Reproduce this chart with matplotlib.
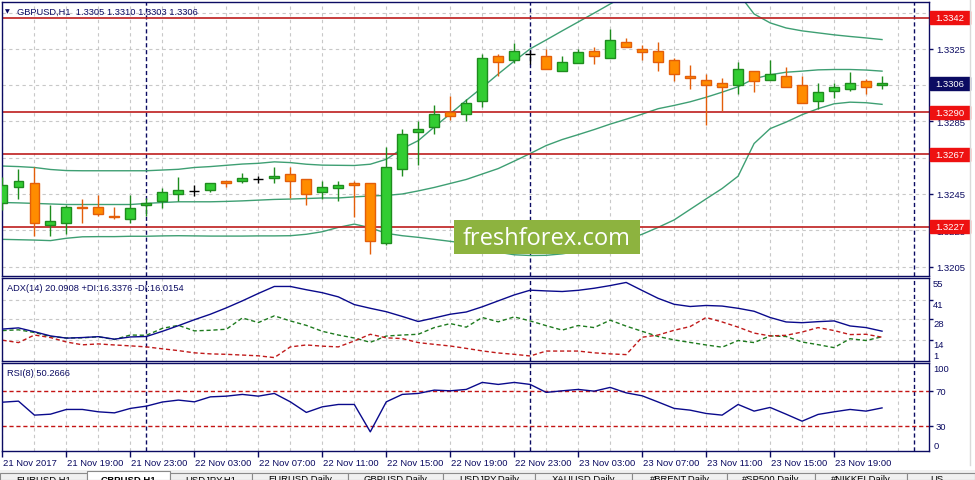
import numpy as np
import matplotlib.pyplot as plt
from matplotlib.patches import Rectangle
from matplotlib.lines import Line2D
from matplotlib import transforms

plt.rcParams['font.family'] = ['Liberation Sans', 'DejaVu Sans']

# GBPUSD H1, 21 Nov 15:00 .. 23 Nov 22:00
symbol = 'GBPUSD,H1'
first_hour = 15
x_labels = ['21 Nov 2017', '21 Nov 19:00', '21 Nov 23:00', '22 Nov 03:00', '22 Nov 07:00',
            '22 Nov 11:00', '22 Nov 15:00', '22 Nov 19:00', '22 Nov 23:00', '23 Nov 03:00',
            '23 Nov 07:00', '23 Nov 11:00', '23 Nov 15:00', '23 Nov 19:00']

opens = [1.32403, 1.32490, 1.32513, 1.32279, 1.32290, 1.32381, 1.32380, 1.32330, 1.32314, 1.32391,
         1.32413, 1.32451, 1.32464, 1.32473, 1.32523, 1.32523, 1.32535, 1.32539, 1.32561, 1.32534,
         1.32462, 1.32484, 1.32513, 1.32512, 1.32182, 1.32589, 1.32792, 1.32819, 1.32902, 1.32891,
         1.32962, 1.33210, 1.33188, 1.33221, 1.33210, 1.33127, 1.33171, 1.33237, 1.33199, 1.33286,
         1.33248, 1.33237, 1.33188, 1.33100, 1.33078, 1.33061, 1.33050, 1.33127, 1.33078, 1.33100,
         1.33050, 1.32962, 1.33017, 1.33028, 1.33072, 1.3305]
highs = [1.32541, 1.32590, 1.32600, 1.32389, 1.32389, 1.32425, 1.32442, 1.32376, 1.32442, 1.32429,
         1.32484, 1.32541, 1.32498, 1.32512, 1.32523, 1.32563, 1.32548, 1.32600, 1.32600, 1.32534,
         1.32523, 1.32523, 1.32523, 1.32512, 1.32710, 1.32810, 1.32854, 1.32942, 1.32991, 1.32971,
         1.33221, 1.33222, 1.33283, 1.33246, 1.33250, 1.33210, 1.33250, 1.33262, 1.33358, 1.33310,
         1.33272, 1.33286, 1.33199, 1.33162, 1.33111, 1.33089, 1.33180, 1.33127, 1.33189, 1.33149,
         1.33100, 1.33061, 1.33061, 1.33122, 1.33083, 1.3310]
lows = [1.32360, 1.32422, 1.32218, 1.32218, 1.32229, 1.32290, 1.32328, 1.32312, 1.32290, 1.32330,
        1.32372, 1.32411, 1.32438, 1.32460, 1.32486, 1.32512, 1.32512, 1.32512, 1.32429, 1.32389,
        1.32422, 1.32413, 1.32323, 1.32119, 1.32169, 1.32548, 1.32608, 1.32781, 1.32856, 1.32854,
        1.32927, 1.33100, 1.33171, 1.33166, 1.33138, 1.33127, 1.33171, 1.33169, 1.33199, 1.33259,
        1.33188, 1.33125, 1.33070, 1.33026, 1.32828, 1.32909, 1.32999, 1.33010, 1.33078, 1.33039,
        1.32951, 1.32920, 1.32979, 1.33017, 1.32999, 1.3303]
closes = [1.32502, 1.32523, 1.32290, 1.32303, 1.32376, 1.32372, 1.32339, 1.32323, 1.32374, 1.32402,
          1.32462, 1.32473, 1.32464, 1.32512, 1.32512, 1.32539, 1.32535, 1.32550, 1.32523, 1.32451,
          1.32490, 1.32498, 1.32502, 1.32193, 1.32600, 1.32783, 1.32810, 1.32891, 1.32880, 1.32951,
          1.33199, 1.33177, 1.33237, 1.33221, 1.33138, 1.33177, 1.33232, 1.33210, 1.33297, 1.33259,
          1.33232, 1.33177, 1.33111, 1.33089, 1.33050, 1.33039, 1.33138, 1.33072, 1.33111, 1.33039,
          1.32951, 1.33012, 1.33039, 1.33061, 1.33039, 1.3306]

bb_upper = [1.32604, 1.32601, 1.32596, 1.32585, 1.32579, 1.32578, 1.32578, 1.32578, 1.32578, 1.32578,
            1.32582, 1.32586, 1.32596, 1.32601, 1.32608, 1.32615, 1.32619, 1.32627, 1.32623, 1.32614,
            1.32609, 1.32608, 1.32607, 1.32614, 1.32641, 1.32700, 1.32744, 1.32819, 1.32892, 1.32966,
            1.33037, 1.33111, 1.33182, 1.33250, 1.33299, 1.33349, 1.33398, 1.33447, 1.33497, 1.33546,
            1.33579, 1.33601, 1.33618, 1.33623, 1.33618, 1.33601, 1.33557, 1.33442, 1.33393, 1.33365,
            1.33349, 1.33338, 1.33327, 1.33318, 1.33310, 1.33301]
bb_middle = [1.32403, 1.32401, 1.32398, 1.32395, 1.32392, 1.32392, 1.32392, 1.32392, 1.32392, 1.32398,
             1.32403, 1.32407, 1.32407, 1.32407, 1.32409, 1.32412, 1.32416, 1.32420, 1.32422, 1.32425,
             1.32428, 1.32428, 1.32434, 1.32439, 1.32442, 1.32450, 1.32467, 1.32486, 1.32508, 1.32530,
             1.32560, 1.32590, 1.32631, 1.32673, 1.32717, 1.32750, 1.32777, 1.32805, 1.32835, 1.32862,
             1.32890, 1.32920, 1.32938, 1.32958, 1.32983, 1.33011, 1.33041, 1.33085, 1.33107, 1.33121,
             1.33127, 1.33134, 1.33136, 1.33136, 1.33133, 1.33127]
bb_lower = [1.32200, 1.32198, 1.32196, 1.32193, 1.32206, 1.32214, 1.32215, 1.32215, 1.32217, 1.32217,
            1.32219, 1.32220, 1.32219, 1.32218, 1.32218, 1.32218, 1.32219, 1.32219, 1.32220, 1.32228,
            1.32242, 1.32266, 1.32284, 1.32264, 1.32233, 1.32220, 1.32211, 1.32200, 1.32189, 1.32178,
            1.32156, 1.32129, 1.32115, 1.32111, 1.32112, 1.32120, 1.32134, 1.32151, 1.32173, 1.32200,
            1.32228, 1.32266, 1.32307, 1.32365, 1.32423, 1.32480, 1.32548, 1.32728, 1.32810, 1.32846,
            1.32887, 1.32920, 1.32947, 1.32956, 1.32953, 1.32944]

levels = [1.3342, 1.3290, 1.3267, 1.3227]
price_ticks = [1.3205, 1.3225, 1.3245, 1.3265, 1.3285, 1.3305, 1.3325, 1.3345]

adx = [21.5, 22.3, 19.7, 16.9, 15.4, 15.8, 16.4, 14.7, 16.2, 16.5,
       20.0, 23.8, 27.8, 31.5, 35.8, 40.5, 45.5, 50.2, 50.2, 48.0,
       46.0, 43.2, 38.0, 35.5, 33.2, 30.0, 26.6, 29.0, 31.5, 33.0,
       36.5, 40.5, 44.5, 47.7, 47.2, 46.8, 47.6, 49.0, 50.8, 52.9,
       47.5, 42.2, 38.2, 36.7, 37.4, 37.0, 35.5, 33.5, 29.3, 26.3,
       25.8, 26.5, 27.0, 23.6, 22.5, 20.0908]
plus_di = [20.5, 21.0, 19.2, 16.5, 15.5, 15.6, 16.3, 14.5, 17.5, 17.3,
           22.0, 24.0, 20.3, 20.7, 21.4, 29.0, 25.9, 30.4, 27.0, 24.0,
           20.0, 17.5, 15.5, 12.6, 16.8, 17.5, 18.0, 22.5, 25.2, 22.8,
           29.3, 26.4, 29.7, 27.0, 23.8, 20.8, 23.9, 22.5, 27.5, 23.5,
           20.0, 16.5, 14.2, 12.5, 10.8, 9.3, 13.8, 12.4, 16.9, 16.5,
           12.8, 11.0, 9.0, 15.0, 13.8, 16.3376]
minus_di = [14.0, 12.4, 17.5, 15.8, 12.8, 10.9, 11.5, 10.8, 10.2, 9.5,
            8.2, 7.0, 5.5, 4.8, 4.5, 4.0, 3.5, 2.3, 9.5, 10.8,
            10.0, 9.5, 13.5, 18.0, 15.6, 15.1, 12.4, 11.2, 10.1, 8.5,
            6.8, 5.4, 4.5, 3.4, 6.7, 6.7, 6.7, 5.5, 4.8, 4.3,
            16.0, 17.5, 20.7, 23.2, 29.3, 26.3, 22.8, 18.8, 16.9, 17.3,
            19.5, 22.5, 20.5, 17.8, 18.0, 16.0154]
rsi = [56.8, 58.0, 42.0, 43.1, 48.5, 48.5, 45.8, 44.6, 49.7, 52.3,
       57.0, 59.2, 57.2, 62.9, 63.7, 65.7, 63.7, 66.8, 57.2, 45.1,
       51.5, 54.2, 54.2, 22.9, 57.2, 65.7, 66.8, 70.6, 69.8, 71.4,
       79.4, 77.1, 79.4, 77.1, 68.0, 69.8, 71.4, 69.4, 73.7, 67.5,
       64.1, 57.0, 49.7, 47.7, 43.9, 42.0, 54.2, 46.6, 50.8, 43.1,
       35.1, 42.8, 45.8, 48.5, 46.6, 50.2666]

tabs = ['EURUSD,H1', 'GBPUSD,H1', 'USDJPY,H1', 'EURUSD,Daily', 'GBPUSD,Daily', 'USDJPY,Daily',
        'XAUUSD,Daily', '#BRENT,Daily', '#SP500,Daily', '#NIKKEI,Daily', 'US...']

NAVY = '#0B0B62'
GRID = '#C8C8C8'
UP, UP_EDGE = '#32CD32', '#1E8C1E'
DN, DN_EDGE = '#FF8C00', '#E35E0A'
BB = '#3E9F73'
LEVEL = '#BE1E1E'
LEVEL_BOX = '#EE1111'

W, H = 975, 481
fig = plt.figure(figsize=(W / 100, H / 100), dpi=100)


def rect(l, t, r, b):
    return [l / W, 1 - b / H, (r - l) / W, (b - t) / H]


ax = fig.add_axes(rect(2, 3, 929, 277))
ax_adx = fig.add_axes(rect(2, 279, 929, 362))
ax_rsi = fig.add_axes(rect(2, 364, 929, 452))

n = len(opens)
x = np.arange(n)
o, h, l, c = map(np.array, (opens, highs, lows, closes))
day_starts = [k for k in range(58) if (first_hour + k) % 24 == 0]

for a in (ax, ax_adx, ax_rsi):
    a.set_xlim(-0.03, 927 / 16)
    for s in a.spines.values():
        s.set_color(NAVY)
        s.set_linewidth(1)
    a.yaxis.tick_right()
    a.tick_params(axis='y', colors=NAVY, labelcolor=NAVY, length=3, width=1, labelsize=6.8, pad=2)
    a.tick_params(axis='x', length=0, labelbottom=False)
    for g in range(0, 58, 2):
        a.axvline(g, color=GRID, lw=0.8, ls=(0, (3, 3)), zorder=0)
    for d in day_starts:
        a.axvline(d, color=NAVY, lw=1, ls=(0, (3, 2)), zorder=1)

# ---- main price panel
ax.set_ylim(1.31998, 1.33508)
ax.set_yticks(price_ticks)
ax.set_yticklabels([f'{p:.4f}' for p in price_ticks])
for p in price_ticks:
    ax.axhline(p, color=GRID, lw=0.8, ls=(0, (3, 3)), zorder=0)

ax.plot(x, bb_upper, color=BB, lw=1, zorder=2)
ax.plot(x, bb_middle, color=BB, lw=1, zorder=2)
ax.plot(x, bb_lower, color=BB, lw=1, zorder=2)

for lv in levels:
    ax.axhline(lv, color=LEVEL, lw=1.2, zorder=2)

up = c > o
dn = c < o
dj = c == o
bw = 0.62
ax.vlines(x[up], l[up], h[up], color=UP_EDGE, lw=1, zorder=3)
ax.vlines(x[dn], l[dn], h[dn], color=DN_EDGE, lw=1, zorder=3)
ax.vlines(x[dj], l[dj], h[dj], color='black', lw=1, zorder=3)
ax.bar(x[up], (c - o)[up], bottom=o[up], width=bw, color=UP, edgecolor=UP_EDGE, lw=1, zorder=4)
ax.bar(x[dn], (o - c)[dn], bottom=c[dn], width=bw, color=DN, edgecolor=DN_EDGE, lw=1, zorder=4)
ax.hlines(c[dj], x[dj] - bw / 2, x[dj] + bw / 2, color='black', lw=1, zorder=4)

tr = transforms.blended_transform_factory(ax.transAxes, ax.transData)
hh = 6.5 / 18200


def price_box(y, txt, color):
    ax.add_patch(Rectangle((1.001, y - hh), 0.0431, 2 * hh, transform=tr, facecolor=color,
                           edgecolor=color, clip_on=False, zorder=6))
    ax.text(1.0226, y, txt, transform=tr, ha='center', va='center', color='white',
            fontsize=6.8, clip_on=False, zorder=7)


for lv in levels:
    price_box(lv, f'{lv:.4f}', LEVEL_BOX)
price_box(closes[-1], f'{closes[-1]:.4f}', NAVY)

fig.text(5 / W, 1 - 12 / H, '\u25bc', fontsize=4.5, color=NAVY, va='center', family='DejaVu Sans')
fig.text(17 / W, 1 - 12 / H,
         f'{symbol}  {opens[-1]:.4f} {highs[-1]:.4f} {lows[-1]:.4f} {closes[-1]:.4f}',
         fontsize=6.7, color=NAVY, va='center')

# ---- ADX panel
ax_adx.set_ylim(0, 55.9)
adx_ticks = [14, 28, 41]
ax_adx.set_yticks(adx_ticks)
ax_adx.set_yticklabels([])
for v in adx_ticks:
    ax_adx.axhline(v, color=GRID, lw=0.8, ls=(0, (3, 3)), zorder=0)
ax_adx.plot(x, adx, color='#0A0A8C', lw=1, zorder=3)
ax_adx.plot(x, plus_di, color='#1E7A1E', lw=1, ls=(0, (3, 2)), zorder=2)
ax_adx.plot(x, minus_di, color='#C01A1A', lw=1, ls=(0, (3, 2)), zorder=2)
tr2 = transforms.blended_transform_factory(ax_adx.transAxes, ax_adx.transData)
for v in [55] + adx_ticks:
    ax_adx.text(1.0045, v, str(v), transform=tr2, va='top', ha='left', fontsize=6.8, color=NAVY)
ax_adx.text(1.0045, 1, '1', transform=tr2, va='bottom', ha='left', fontsize=6.8, color=NAVY)
fig.text(7 / W, 1 - 289 / H,
         f'ADX(14) {adx[-1]:.4f} +DI:{plus_di[-1]:.4f} -DI:{minus_di[-1]:.4f}',
         fontsize=6.7, color=NAVY, va='center')

# ---- RSI panel
ax_rsi.set_ylim(1, 101.6)
ax_rsi.set_yticks([30, 70])
ax_rsi.set_yticklabels(['30', '70'])
for v in (30, 70):
    ax_rsi.axhline(v, color='#C41414', lw=1, ls=(0, (3, 2)), zorder=1)
ax_rsi.plot(x, rsi, color='#0A0A8C', lw=1, zorder=3)
tr3 = transforms.blended_transform_factory(ax_rsi.transAxes, ax_rsi.transData)
ax_rsi.text(1.0045, 100.3, '100', transform=tr3, va='top', ha='left', fontsize=6.8, color=NAVY)
ax_rsi.text(1.0045, 1.8, '0', transform=tr3, va='bottom', ha='left', fontsize=6.8, color=NAVY)
fig.text(7 / W, 1 - 374 / H, f'RSI(8) {rsi[-1]:.4f}', fontsize=6.7, color=NAVY, va='center')

ax_rsi.set_xticks(range(0, 4 * len(x_labels), 4))
ax_rsi.set_xticklabels(x_labels)
ax_rsi.tick_params(axis='x', length=4, width=1, color=NAVY, labelcolor=NAVY, labelsize=6.8,
                   pad=0.8, labelbottom=True)
shift = transforms.ScaledTranslation(1 / 100, 0, fig.dpi_scale_trans)
for t in ax_rsi.get_xticklabels():
    t.set_ha('left')
    t.set_transform(t.get_transform() + shift)

# ---- watermark
fig.add_artist(Rectangle((454 / W, 1 - 255 / H), 186 / W, 34 / H, transform=fig.transFigure,
                         facecolor='#8DB33F', edgecolor='none', zorder=10))
fig.text(547 / W, 1 - 239 / H, 'freshforex.com', fontsize=17, color='white', ha='center',
         va='center', family=['Open Sans', 'DejaVu Sans'], zorder=11)

# ---- window edge and tab bar
fig.add_artist(Line2D([970 / W, 970 / W], [1 - 466 / H, 1], transform=fig.transFigure,
                      color='#DADADA', lw=1))
fig.add_artist(Rectangle((0, 0), 1, 10 / H, transform=fig.transFigure, facecolor='#F0F0F0',
                         edgecolor='none', zorder=1))
tab_edges = [0, 87, 170, 252, 348, 443, 535, 632, 727, 815, 907, 975]
for i, name in enumerate(tabs):
    l0, r0 = tab_edges[i], tab_edges[i + 1]
    active = name == symbol
    top = 472 if active else 474
    fig.add_artist(Rectangle((l0 / W, 0), (r0 - l0) / W, (H - top) / H, transform=fig.transFigure,
                             facecolor='white' if active else '#F0F0F0', edgecolor='#8A8A8A',
                             lw=0.8, zorder=2))
    fig.text((l0 + r0) / 2 / W, 1 / H, name, fontsize=6.8, ha='center', va='center',
             color='black', weight='bold' if active else 'normal', zorder=3)

fig.savefig('out.png', dpi=100)
